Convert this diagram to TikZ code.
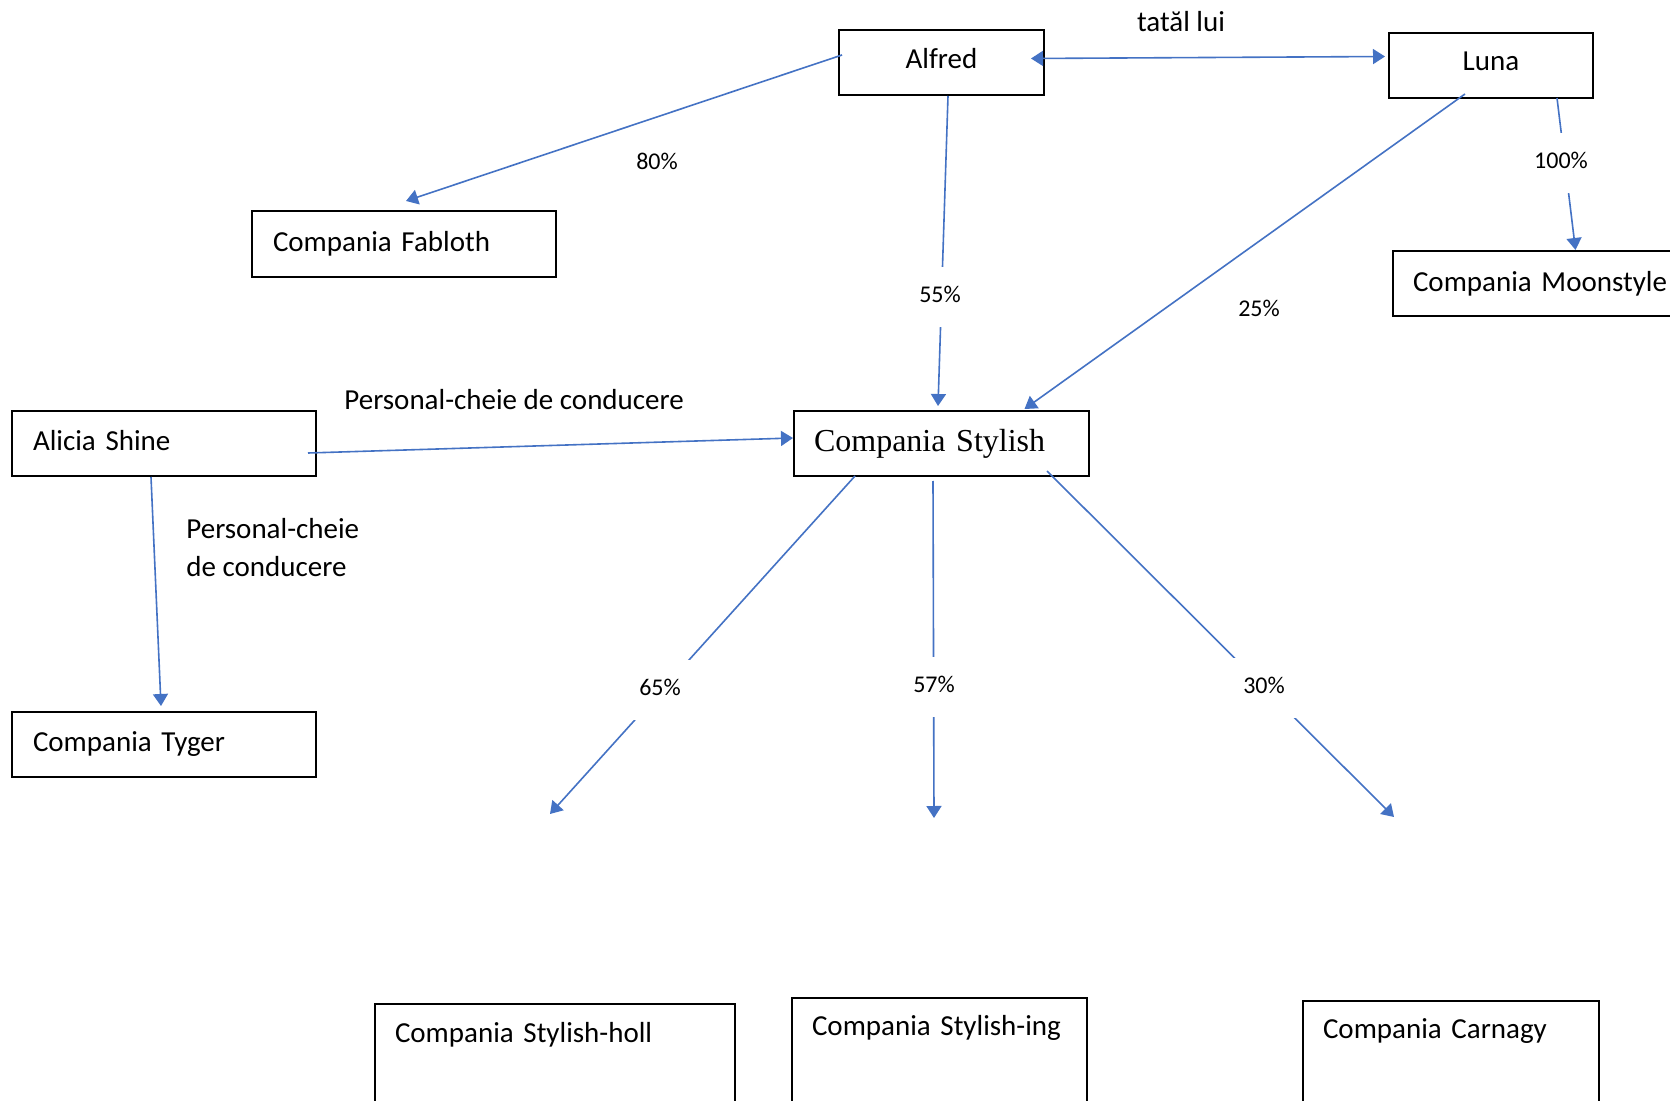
\documentclass[tikz,border=0pt]{standalone}
\usepackage{fontspec}
\setmainfont{Carlito}
\newfontfamily\serifr{Liberation Serif}
\usetikzlibrary{arrows.meta,calc}
\definecolor{linkblue}{HTML}{4472C4}
\begin{document}
\begin{tikzpicture}[x=0.5pt,y=-0.5pt,
  box/.style={draw=black,line width=1pt,rectangle,inner sep=0pt,font=\fontsize{14.5}{17.5}\selectfont},
  lbox/.style={box,align=left},
  conn/.style={draw=linkblue,line width=0.8pt,-{Triangle[length=6pt,width=7.5pt]}},
  dconn/.style={draw=linkblue,line width=0.8pt,{Triangle[length=6pt,width=7.5pt]}-{Triangle[length=6pt,width=7.5pt]}},
  pct/.style={font=\fontsize{12}{14}\selectfont,inner sep=0pt},
  gappct/.style={pct,fill=white,minimum width=32pt,minimum height=30pt,text depth=3pt},
  txt/.style={font=\fontsize{14.5}{19}\selectfont,inner sep=0pt}
]
\useasboundingbox (0,0) rectangle (1670,1101);
\fill[white] (0,0) rectangle (1670,1101);
\begin{scope}
\clip (0,0) rectangle (1670,1101);

% boxes
\node[box,minimum width=102.5pt,minimum height=32.5pt,text depth=4pt] (alfred) at (941.5,62.5) {Alfred};
\node[box,minimum width=102pt,minimum height=32.5pt,text depth=4pt] (luna) at (1491,65.5) {Luna};
\node[lbox,text width=131pt,inner xsep=10.5pt,minimum height=33pt] (fab) at (404,244) {Compania Fabloth};
\node[lbox,text width=128pt,inner xsep=10pt,minimum height=32.5pt,anchor=west] (moon) at (1392,283.5) {\mbox{Compania Moonstyle}};
\node[lbox,text width=131pt,inner xsep=10.5pt,minimum height=32.5pt,text depth=3pt] (alicia) at (164,443.5) {Alicia Shine};
\node[lbox,text width=127.5pt,inner xsep=10pt,minimum height=32.5pt,font=\serifr\fontsize{16}{19}\selectfont] (stylish) at (941.5,443.5) {Compania Stylish};
\node[lbox,text width=131pt,inner xsep=10.5pt,minimum height=32.5pt] (tyger) at (164,744.5) {Compania Tyger};

\node[lbox,anchor=north west,text width=160pt,inner xsep=10pt,inner ysep=5pt,text height=14pt,text depth=50pt] (holl) at (374,1003) {Compania Stylish-holl};
\node[lbox,anchor=north west,text width=127.5pt,inner xsep=10pt,inner ysep=5pt,text height=13.5pt,text depth=50pt] (ing) at (791,997) {Compania Stylish-ing};
\node[lbox,anchor=north west,text width=128pt,inner xsep=10pt,inner ysep=5pt,text height=13.5pt,text depth=50pt] (carn) at (1302,1000) {Compania Carnagy};

% free arrow ends
\coordinate (t65) at (550,814);
\coordinate (t57) at (934,818);
\coordinate (t30) at (1394,817);

% text labels
\node[txt] (tatal) at (1181,22) {tatăl lui};
\node[txt,anchor=west] (pcd1) at (344,400) {Personal-cheie de conducere};
\node[txt,anchor=west,align=left] (pcd2) at (186,548) {Personal-cheie\\de conducere};

% connectors
\draw[dconn] ($(alfred.east)+(-14,-4)$) -- ($(luna.west)+(-3,-9)$);
\draw[conn] ($(alfred.west)+(4,-7.5)$) -- ($(fab.north)+(2,-9)$);
\draw[conn] ($(alfred.south)+(6.5,0)$) -- ($(stylish.north)+(-3.5,-4)$);
\draw[conn] ($(luna.south)+(-26,-5)$) -- ($(stylish.north)+(83,-1)$);
\draw[conn] ($(luna.south)+(66,-1)$) -- ($(moon.north)+(34.5,0)$);
\draw[conn] ($(alicia.east)+(-9,9.5)$) -- ($(stylish.west)+(0,-5.5)$);
\draw[conn] ($(alicia.south)+(-13,0)$) -- ($(tyger.north)+(-3,-5)$);
\draw[conn] ($(stylish.south)+(-86.5,-1)$) -- (t65);
\draw[conn] ($(stylish.south)+(-8.5,4)$) -- (t57);
\draw[conn] ($(stylish.south)+(105.5,-6)$) -- (t30);

% percentages
\node[pct] (p80) at (657,161) {80\%};
\node[pct] (p25) at (1259,308) {25\%};
\node[gappct] (p55) at (940,297) {55\%};
\node[gappct] (p100) at (1561,163) {100\%};
\node[gappct] (p65) at (660,690) {65\%};
\node[gappct] (p57) at (934,687) {57\%};
\node[gappct] (p30) at (1264,688) {30\%};
\end{scope}
\end{tikzpicture}
\end{document}
